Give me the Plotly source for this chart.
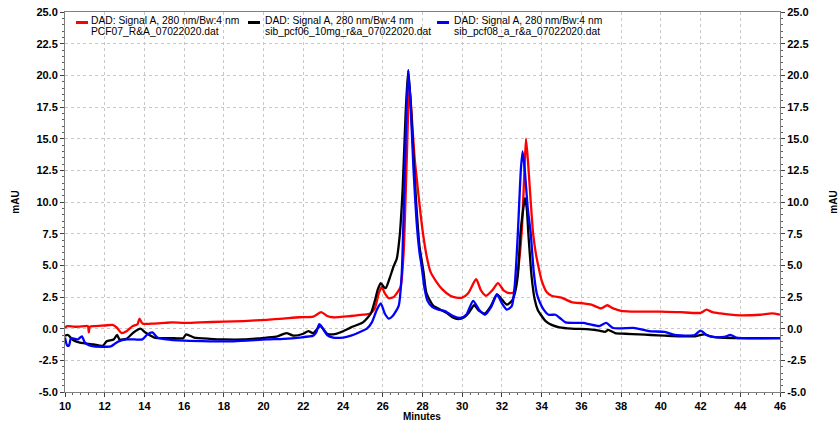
import plotly.graph_objects as go

# Retention time (minutes) and detector response (mAU) for each run
red_t = [10.0, 10.1, 10.5, 11.0, 11.15, 11.2, 11.25, 11.5, 12.0, 12.4, 12.6, 12.85, 13.1, 13.4, 13.65, 13.75, 13.9,
         14.5, 15.0, 15.4, 16.0, 16.8, 18.0, 19.0, 20.15, 21.0, 21.8, 22.5, 22.9, 23.2, 23.5, 24.0, 24.4, 25.0,
         25.36, 25.6, 25.8, 25.95, 26.1, 26.3, 26.55, 26.75, 26.9, 27.05, 27.2, 27.34, 27.47, 27.6, 27.7, 27.8,
         28.0, 28.2, 28.4, 28.7, 29.0, 29.4, 29.7, 30.0, 30.3, 30.7, 30.95, 31.2, 31.5, 31.8, 32.1, 32.4, 32.6,
         32.8, 33.0, 33.12, 33.21, 33.32, 33.45, 33.57, 33.7, 33.85, 34.0, 34.25, 34.5, 35.0, 35.5, 36.1, 36.5,
         37.0, 37.3, 37.6, 38.0, 38.5, 40.0, 41.0, 42.0, 42.3, 42.6, 43.0, 43.5, 44.0, 45.0, 45.6, 46.0]
red_v = [0.05, 0.2, 0.15, 0.2, 0.2, -0.3, 0.15, 0.2, 0.25, 0.3, 0.1, -0.35, -0.2, 0.2, 0.35, 0.8, 0.4,
         0.4, 0.45, 0.5, 0.45, 0.5, 0.55, 0.6, 0.7, 0.8, 0.9, 0.95, 1.3, 1.0, 0.9, 0.95, 1.0, 1.1,
         1.2, 1.6, 2.8, 3.3, 2.8, 2.4, 2.5, 2.9, 3.3, 6.0, 13.0, 19.2, 16.5, 13.5, 12.0, 10.5,
         7.8, 5.8, 4.5, 3.7, 3.1, 2.6, 2.45, 2.45, 2.8, 3.9, 3.0, 2.6, 3.0, 3.6, 3.0, 2.8, 2.9,
         4.5, 7.8, 12.0, 15.0, 13.0, 10.0, 7.5, 6.0, 4.8, 3.8, 2.9, 2.6, 2.45, 2.1, 2.0, 1.9,
         1.6, 1.85, 1.6, 1.4, 1.35, 1.35, 1.3, 1.25, 1.5, 1.3, 1.2, 1.1, 1.05, 1.1, 1.2, 1.1]

black_t = [10.0, 10.15, 10.4, 10.75, 11.45, 11.9, 12.1, 12.45, 12.62, 12.75, 13.1, 13.45, 13.8, 14.05, 14.5,
           15.0, 15.5, 15.95, 16.1, 16.5, 17.3, 18.0, 19.0, 20.15, 20.7, 21.15, 21.5, 22.0, 22.25, 22.5, 22.85,
           23.2, 23.5, 23.85, 24.4, 25.0, 25.4, 25.6, 25.75, 25.9, 26.05, 26.15, 26.35, 26.55, 26.7, 26.85, 27.0,
           27.15, 27.28, 27.42, 27.55, 27.7, 27.85, 28.05, 28.2, 28.55, 28.9, 29.2, 29.5, 29.8, 30.1, 30.35,
           30.6, 30.85, 31.15, 31.45, 31.75, 32.0, 32.25, 32.5, 32.65, 32.8, 32.93, 33.05, 33.16, 33.25, 33.33,
           33.5, 33.65, 33.8, 34.0, 34.2, 34.5, 34.9, 35.5, 36.4, 36.9, 37.2, 37.35, 37.7, 38.2, 38.9, 39.5,
           40.2, 41.0, 41.7, 42.2, 42.5, 43.0, 44.0, 45.0, 46.0]
black_v = [-0.55, -0.5, -0.9, -1.1, -1.25, -1.35, -1.0, -0.85, -0.5, -0.85, -0.8, -0.3, 0.0, -0.3, -0.7,
           -0.75, -0.75, -0.75, -0.45, -0.7, -0.8, -0.85, -0.85, -0.7, -0.6, -0.35, -0.55, -0.4, -0.2, -0.35, 0.2,
           -0.4, -0.45, -0.3, 0.1, 0.5, 1.2, 2.2, 3.1, 3.6, 3.3, 3.2, 4.0, 4.95, 5.5, 7.3, 11.0,
           17.0, 20.4, 17.5, 13.5, 9.5, 6.5, 4.5, 2.8, 1.8, 1.5, 1.25, 0.9, 0.75, 0.9, 1.3,
           1.85, 1.4, 1.2, 1.8, 2.7, 2.3, 1.9, 2.2, 2.8, 4.2, 7.5, 9.2, 10.3, 9.5, 7.5,
           4.0, 2.3, 1.5, 1.0, 0.6, 0.3, 0.1, 0.0, -0.05, -0.15, -0.25, -0.1, -0.35, -0.4, -0.45, -0.5,
           -0.55, -0.6, -0.6, -0.45, -0.6, -0.7, -0.75, -0.75, -0.75]

blue_t = [10.0, 10.1, 10.2, 10.3, 10.5, 10.65, 10.85, 11.0, 11.2, 11.45, 12.3, 12.5, 12.7, 13.1, 13.5, 13.9,
          14.15, 14.4, 14.65, 15.1, 16.0, 17.3, 18.5, 20.15, 21.0, 21.8, 22.5, 22.65, 22.8, 22.95, 23.2, 23.5,
          24.0, 24.4, 24.8, 25.2, 25.45, 25.7, 25.9, 26.1, 26.3, 26.5, 26.8, 26.95, 27.05, 27.17, 27.29, 27.42,
          27.55, 27.7, 27.85, 27.95, 28.1, 28.25, 28.5, 28.8, 29.1, 29.55, 29.9, 30.2, 30.55, 30.85, 31.15,
          31.45, 31.75, 32.0, 32.25, 32.5, 32.65, 32.8, 32.95, 33.04, 33.15, 33.3, 33.45, 33.6, 33.75, 33.9,
          34.1, 34.35, 34.7, 34.95, 35.2, 36.1, 36.4, 36.9, 37.25, 37.6, 38.7, 39.4, 40.2, 40.7, 41.7, 42.0,
          42.3, 42.6, 43.2, 43.5, 43.8, 44.0, 46.0]
blue_v = [-0.7, -1.3, -1.35, -0.75, -0.8, -0.85, -0.6, -1.1, -1.3, -1.4, -1.4, -1.2, -1.0, -0.85, -0.85, -0.85,
          -0.45, -0.3, -0.7, -0.85, -0.95, -1.0, -1.0, -0.85, -0.8, -0.7, -0.55, -0.3, 0.35, 0.1, -0.5, -0.7,
          -0.7, -0.55, -0.3, 0.0, 0.5, 1.5, 2.0, 1.2, 0.8, 1.0, 1.8, 4.2, 9.0, 16.0, 20.4, 17.0,
          12.5, 8.5, 6.0, 5.0, 3.2, 2.2, 1.7, 1.5, 1.4, 1.0, 0.85, 1.1, 2.2, 1.5, 1.1,
          1.7, 2.7, 2.0, 1.5, 1.8, 3.5, 7.5, 12.5, 14.0, 12.5, 9.5, 7.5, 4.5, 2.8, 2.1,
          1.5, 1.1, 1.1, 0.8, 0.5, 0.45, 0.35, 0.2, 0.45, 0.05, 0.05, -0.2, -0.25, -0.5, -0.5, -0.15,
          -0.5, -0.65, -0.65, -0.5, -0.7, -0.75, -0.75]

series_colors = ["#ff0000", "#000000", "#0000ff"]
legend_line1 = ["DAD: Signal A, 280 nm/Bw:4 nm"] * 3
legend_line2 = ["PCF07_R&A_07022020.dat", "sib_pcf06_10mg_r&a_07022020.dat", "sib_pcf08_a_r&a_07022020.dat"]

x_ticks = list(range(10, 47, 2))
y_ticks = [-5.0 + 2.5 * i for i in range(13)]
y_labels = [f"{v:.1f}" for v in y_ticks]

W, H = 839, 421
ML, MR, MT, MB = 65, 59, 12, 29
PW, PH = W - ML - MR, H - MT - MB

FONT = "Liberation Sans, Arial, sans-serif"

fig = go.Figure()
data = [(red_t, red_v), (black_t, black_v), (blue_t, blue_v)]
for (t, v), c, n2 in zip(data, series_colors, legend_line2):
    fig.add_trace(go.Scatter(x=t, y=v, mode="lines", name=n2, showlegend=False,
                             line=dict(color=c, width=2.3, shape="spline", smoothing=0.6)))
# empty trace that brings up the right-hand mAU axis
fig.add_trace(go.Scatter(x=[], y=[], yaxis="y2", showlegend=False, hoverinfo="skip"))

tickfont = dict(family=FONT, size=11, color="#000000", weight="bold")
titlefont = dict(family=FONT, size=10, color="#000000", weight="bold")
grid = dict(showgrid=True, gridcolor="#c8c8c8", griddash="dot", gridwidth=1)

fig.update_layout(
    width=W, height=H,
    margin=dict(l=ML, r=MR, t=MT, b=MB, pad=0),
    paper_bgcolor="white", plot_bgcolor="white",
    xaxis=dict(range=[10, 46], tickvals=x_ticks, ticktext=[str(v) for v in x_ticks], automargin=False,
               ticks="outside", ticklen=4, tickcolor="#404040", tickfont=tickfont,
               showline=True, linecolor="#808080", linewidth=1, mirror=True, zeroline=False,
               minor=dict(dtick=0.4, tick0=10, ticks="outside", ticklen=2, tickcolor="#606060", showgrid=False),
               **grid),
    yaxis=dict(range=[-5, 25], tickvals=y_ticks, ticktext=y_labels, automargin=False,
               ticks="outside", ticklen=4, tickcolor="#404040", tickfont=tickfont,
               showline=True, linecolor="#808080", linewidth=1, zeroline=False,
               minor=dict(dtick=0.5, tick0=0, ticks="outside", ticklen=2, tickcolor="#606060", showgrid=False),
               title=dict(text="mAU", font=titlefont, standoff=14),
               **grid),
    yaxis2=dict(range=[-5, 25], overlaying="y", side="right", tickvals=y_ticks, ticktext=y_labels,
                automargin=False,
                ticks="outside", ticklen=4, tickcolor="#404040", tickfont=tickfont,
                showline=True, linecolor="#808080", linewidth=1, zeroline=False, showgrid=False,
                minor=dict(dtick=0.5, tick0=0, ticks="outside", ticklen=2, tickcolor="#606060"),
                title=dict(text="mAU", font=titlefont, standoff=26)),
)

def px(x):
    return (x - ML) / PW
def py(y):
    return (H - MB - y) / PH

# x-axis caption sits low, under the tick labels
fig.add_annotation(xref="paper", yref="paper", x=px(422), y=py(416), text="Minutes", showarrow=False,
                   xanchor="center", yanchor="middle", font=titlefont)

# Legend drawn as short line samples with two-line captions
sample_x = [76, 248, 437]
text_x = [89, 263, 452]
for c, sx, tx, l1, l2 in zip(series_colors, sample_x, text_x, legend_line1, legend_line2):
    fig.add_shape(type="line", xref="paper", yref="paper", x0=px(sx), x1=px(sx + 12),
                  y0=py(22.5), y1=py(22.5), line=dict(color=c, width=3))
    for txt, yy in ((l1, 20.5), (l2, 31.5)):
        fig.add_annotation(xref="paper", yref="paper", x=px(tx), y=py(yy), text=txt, showarrow=False,
                           xanchor="left", yanchor="middle",
                           font=dict(family=FONT, size=10.3, color="#000000"))

fig.write_html("out.html")
